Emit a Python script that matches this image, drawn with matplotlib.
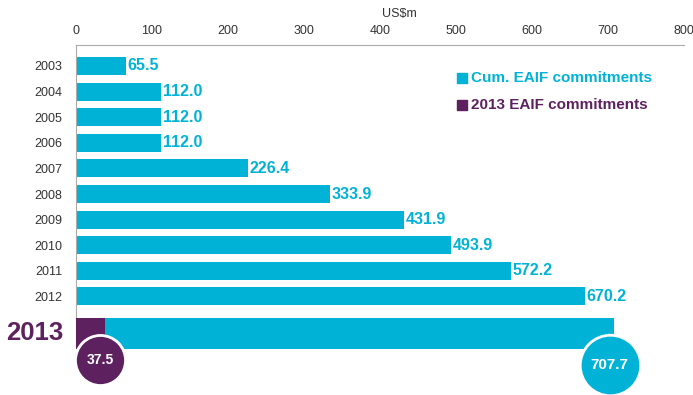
import matplotlib
matplotlib.use('agg')
import matplotlib.pyplot as plt
from matplotlib import font_manager
import numpy as np

# data
years = ['2003', '2004', '2005', '2006', '2007', '2008', '2009', '2010',
         '2011', '2012']
cum_values = [65.5, 112.0, 112.0, 112.0, 226.4, 333.9, 431.9, 493.9,
              572.2, 670.2]
cum_2013 = 707.7
new_2013 = 37.5
xticks = [0, 100, 200, 300, 400, 500, 600, 700, 800]

CYAN = '#00b3d6'
PURPLE = '#5e2160'
GREY = '#333333'

plt.rcParams['font.family'] = ['Liberation Sans', 'DejaVu Sans']
names = set(f.name for f in font_manager.fontManager.ttflist)
NARROW = ['Liberation Sans Narrow', 'Liberation Sans'] \
    if 'Liberation Sans Narrow' in names else ['Liberation Sans']

fig = plt.figure(figsize=(6.93, 3.95), dpi=100)
ax = fig.add_axes([76 / 693, 0, 608 / 693, 350 / 395])

pos = np.arange(len(years))
pos_2013 = 10.43

ax.barh(pos, cum_values, height=0.70, color=CYAN, zorder=2)
for p, v in zip(pos, cum_values):
    ax.text(v + 2, p, '%.1f' % v, color=CYAN, fontsize=11.5,
            fontweight='bold', va='center', ha='left')

# 2013 bar: cumulative with this year's commitments at the left
ax.barh(pos_2013, cum_2013, height=1.21, color=CYAN, zorder=2)
ax.barh(pos_2013, new_2013, height=1.21, color=PURPLE, zorder=3)

# circle labels
ax.scatter([31.5], [11.48], s=1300, color=PURPLE, edgecolor='white',
           linewidth=2, zorder=4, clip_on=False)
ax.text(31.5, 11.48, '%.1f' % new_2013, color='white', fontsize=10,
        fontweight='bold', ha='center', va='center', zorder=5,
        family=NARROW)
ax.scatter([702], [11.68], s=1900, color=CYAN, edgecolor='white',
           linewidth=2, zorder=4, clip_on=False)
ax.text(702, 11.68, '%.1f' % cum_2013, color='white', fontsize=11,
        fontweight='bold', ha='center', va='center', zorder=5,
        family=NARROW)

ax.set_xlim(0, 800)
ax.set_ylim(12.85, -0.82)
ax.xaxis.tick_top()
ax.set_xticks(xticks)
ax.set_xticklabels([str(t) for t in xticks], fontsize=9, color=GREY,
                   family=NARROW)
ax.tick_params(axis='x', length=0, pad=6)
ax.set_yticks(pos)
ax.set_yticklabels(years, fontsize=9, color=GREY, family=NARROW)
ax.tick_params(axis='y', length=0, pad=10)

ax.text(-16, pos_2013, '2013', color=PURPLE, fontsize=18.5,
        fontweight='bold', ha='right', va='center', family=NARROW)

ax.text(425, -2.05, 'US$m', fontsize=9, color=GREY, ha='center',
        va='center', clip_on=False, family=NARROW)

for s in ['right', 'bottom']:
    ax.spines[s].set_visible(False)
ax.spines['top'].set_color('#aaaaaa')
ax.spines['left'].set_color('#aaaaaa')
ax.spines['left'].set_bounds(-0.82, pos_2013 + 0.6)

# legend
ax.scatter([508], [0.47], marker='s', s=60, color=CYAN, zorder=3)
ax.text(520, 0.47, 'Cum. EAIF commitments', color=CYAN, fontsize=11,
        fontweight='bold', va='center')
ax.scatter([508], [1.52], marker='s', s=60, color=PURPLE, zorder=3)
ax.text(520, 1.52, '2013 EAIF commitments', color=PURPLE, fontsize=11,
        fontweight='bold', va='center')

ax.patch.set_alpha(0)
fig.savefig('out.png', dpi=100)
